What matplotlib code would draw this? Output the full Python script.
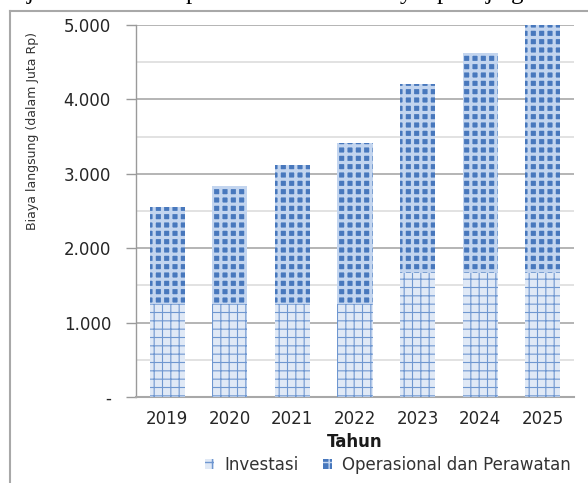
import matplotlib.pyplot as plt
from matplotlib.lines import Line2D
from matplotlib.ticker import FuncFormatter, MultipleLocator

years = ['2019', '2020', '2021', '2022', '2023', '2024', '2025']
investasi = [1250, 1250, 1250, 1250, 1670, 1670, 1670]
operasional = [1300, 1580, 1870, 2170, 2540, 2950, 3330]

W, H = 588, 483
fig = plt.figure(figsize=(W / 100, H / 100), dpi=100)

# axes box in pixel terms: x 136..574, y 25..397
ax = fig.add_axes([136 / W, 1 - 397 / H, (574 - 136) / W, (397 - 25) / H])

x = range(len(years))
b1 = ax.bar(x, investasi, width=0.56, color='#e0e9f6', edgecolor='#6f97d0',
            hatch='--||', linewidth=0, label='Investasi', zorder=3)
b2 = ax.bar(x, operasional, width=0.56, bottom=investasi, color='#4878bd',
            edgecolor='#c3d5ef', hatch='++', linewidth=0,
            label='Operasional dan Perawatan', zorder=3)
for p in b1:
    if hasattr(p, 'set_hatch_linewidth'):
        p.set_hatch_linewidth(0.8)
for p in b2:
    if hasattr(p, 'set_hatch_linewidth'):
        p.set_hatch_linewidth(2.3)

ax.set_xlim(-0.5, len(years) - 0.5)
ax.set_ylim(0, 5000)
ax.yaxis.set_major_locator(MultipleLocator(1000))
ax.yaxis.set_minor_locator(MultipleLocator(500))
ax.yaxis.set_major_formatter(FuncFormatter(
    lambda v, _: '-' if v == 0 else f'{int(v):,}'.replace(',', '.')))
ax.grid(axis='y', which='major', color='#b4b4b4', linewidth=1.4, zorder=0)
ax.grid(axis='y', which='minor', color='#e2e2e2', linewidth=1.4, zorder=0)
ax.set_axisbelow(True)

ax.set_xticks(list(x))
ax.set_xticklabels(years)
ax.tick_params(axis='x', length=0, pad=9, labelsize=12, labelcolor='#262626')
ax.tick_params(axis='y', which='major', length=7, width=1, color='#9a9a9a',
               pad=11, labelsize=12, labelcolor='#262626')
ax.tick_params(axis='y', which='minor', length=0)

for s in ('top', 'right'):
    ax.spines[s].set_visible(False)
ax.spines['left'].set_color('#9a9a9a')
ax.spines['left'].set_linewidth(1)
ax.spines['bottom'].set_color('#a8a8a8')
ax.spines['bottom'].set_linewidth(1.5)

ax.set_xlabel('Tahun', fontsize=12, fontweight='bold', color='#1a1a1a', labelpad=4)

fig.text(33 / W, 1 - 131 / H, 'Biaya langsung (dalam Juta Rp)', rotation=90,
         ha='center', va='center', fontsize=9, color='#333333')

fig.legend(handles=[b1, b2], loc='center', bbox_to_anchor=(388 / W, 1 - 465 / H),
           ncol=2, frameon=False, fontsize=12, handlelength=0.55, handleheight=0.55,
           handletextpad=0.6, columnspacing=1.5, labelcolor='#333333')

# document frame around the chart
fig.add_artist(Line2D([10 / W, 1], [1 - 11 / H, 1 - 11 / H], color='#a8a8a8', lw=1.5))
fig.add_artist(Line2D([10 / W, 10 / W], [0, 1 - 11 / H], color='#a8a8a8', lw=1.5))

# cut-off descenders of the text line above the chart
for ch, px in [('j', 27), ('p', 186), ('y', 400), ('p', 437), ('j', 486), ('g', 511)]:
    fig.text(px / W, 1 + 1 / H, ch, fontsize=18, family='Liberation Serif',
             va='baseline', ha='left', color='black')

fig.savefig('out.png', dpi=100)
